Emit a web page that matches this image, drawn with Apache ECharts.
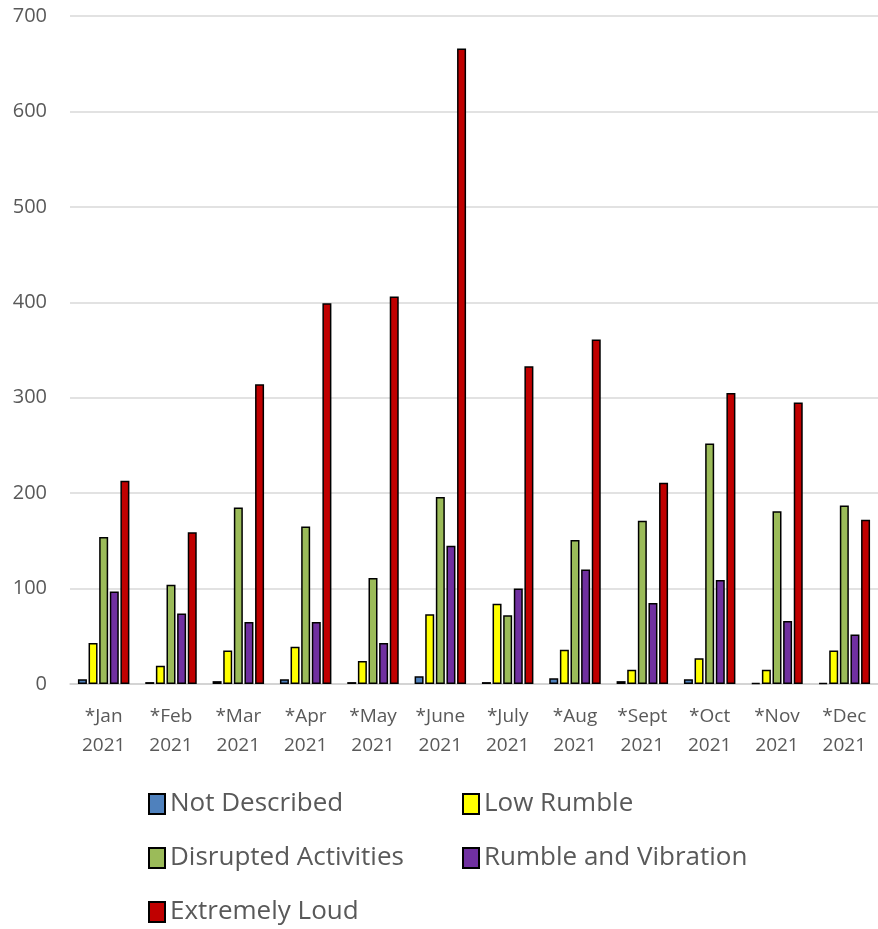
<!DOCTYPE html>
<html>
<head>
<meta charset="utf-8">
<script src="https://cdn.jsdelivr.net/npm/echarts@6/dist/echarts.min.js"></script>
<style>
  html, body { margin: 0; padding: 0; background: #fff; }
  #chart { width: 878px; height: 929px; }
</style>
</head>
<body>
<div id="chart"></div>
<script>
const months = ['*Jan\n2021', '*Feb\n2021', '*Mar\n2021', '*Apr\n2021', '*May\n2021', '*June\n2021',
                '*July\n2021', '*Aug\n2021', '*Sept\n2021', '*Oct\n2021', '*Nov\n2021', '*Dec\n2021']

const notDescribed = [5, 2, 3, 5, 2, 8, 2, 6, 3, 5, 1, 1]
const lowRumble = [43, 19, 35, 39, 24, 73, 84, 36, 15, 27, 15, 35]
const disrupted = [154, 104, 185, 165, 111, 196, 72, 151, 171, 252, 181, 187]
const rumbleVibration = [97, 74, 65, 65, 43, 145, 100, 120, 85, 109, 66, 52]
const extremelyLoud = [213, 159, 314, 399, 406, 666, 333, 361, 211, 305, 295, 172]

const seriesNames = ['Not Described', 'Low Rumble', 'Disrupted Activities', 'Rumble and Vibration', 'Extremely Loud']
const seriesColors = ['#4f81bd', '#ffff00', '#9bbb59', '#7030a0', '#c00000']
const seriesData = [notDescribed, lowRumble, disrupted, rumbleVibration, extremelyLoud]

const textColor = '#595959'
const fontFam = '"Open Sans", "Noto Sans", sans-serif'

// legend laid out in two columns, one legend per item
const legendPos = [[143, 786], [457, 786], [143, 840], [457, 840], [143, 894]]

let option = {
  animation: false,
  grid: { left: 70, right: 0, top: 16, bottom: 245 },
  legend: seriesNames.map((name, i) => ({
    data: [name],
    left: legendPos[i][0],
    top: legendPos[i][1],
    icon: 'rect',
    itemWidth: 16,
    itemHeight: 20,
    itemGap: 6,
    textStyle: { fontSize: 26, color: textColor, fontFamily: fontFam },
    selectedMode: false
  })),
  xAxis: {
    type: 'category',
    data: months,
    axisTick: { show: false },
    axisLine: { lineStyle: { color: '#d0d0d0', width: 1.5 } },
    axisLabel: { color: textColor, fontSize: 19, fontFamily: fontFam, lineHeight: 29, margin: 18, interval: 0 }
  },
  yAxis: {
    type: 'value',
    min: 0,
    max: 700,
    interval: 100,
    axisLine: { show: false },
    axisTick: { show: false },
    splitLine: { lineStyle: { color: '#d9d9d9', width: 1.5 } },
    axisLabel: { color: textColor, fontSize: 20, fontFamily: fontFam, margin: 23 }
  },
  series: seriesNames.map((name, i) => ({
    name: name,
    type: 'bar',
    data: seriesData[i],
    barWidth: 9,
    barGap: '18%',
    itemStyle: { color: seriesColors[i], borderColor: '#000', borderWidth: 1.5 }
  }))
}

const chart = echarts.init(document.getElementById('chart'))
chart.setOption(option)
</script>
</body>
</html>
